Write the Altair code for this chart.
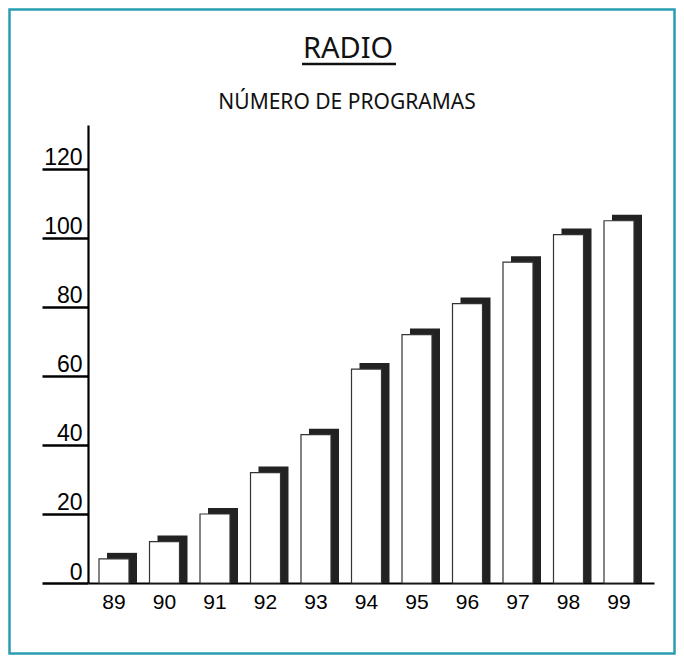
import altair as alt
import pandas as pd

years = ["89", "90", "91", "92", "93", "94", "95", "96", "97", "98", "99"]
programas = [7, 12, 20, 32, 43, 62, 72, 81, 93, 101, 105]
y_ticks = [0, 20, 40, 60, 80, 100, 120]
title_text = "RADIO"
subtitle_text = "NÚMERO DE PROGRAMAS"

df = pd.DataFrame({"year": years, "value": programas})

W, H = 566, 458
FONT = "Liberation Sans, Arial, sans-serif"
TFONT = "Noto Sans, sans-serif"

xscale = alt.Scale(domain=years, paddingInner=0.406, paddingOuter=0.307, align=0.355)
yscale = alt.Scale(domain=[0, 132.75], nice=False, zero=True)

xaxis = alt.Axis(title=None, ticks=False, domainColor="black", domainWidth=2.2,
                 labelFont=FONT, labelFontSize=21, labelColor="black",
                 labelPadding=8, labelAngle=0)
yaxis = alt.Axis(title=None, values=y_ticks, grid=False, domainColor="black", domainWidth=2.2,
                 tickColor="black", tickWidth=2.5, tickSize=46,
                 labelFont=FONT, labelFontSize=23, labelColor="black",
                 labelAlign="right", labelBaseline="alphabetic", labelPadding=-40,
                 labelOffset=-4)

base = alt.Chart(df)

shadow = base.mark_bar(color="#222222", xOffset=8, yOffset=-6, y2Offset=0).encode(
    x=alt.X("year:N", scale=xscale, axis=xaxis, sort=years),
    y=alt.Y("value:Q", scale=yscale, axis=yaxis),
    y2=alt.value(H),
)
white = base.mark_bar(color="white", stroke="#333333", strokeWidth=1.2).encode(
    x=alt.X("year:N", scale=xscale, sort=years),
    y=alt.Y("value:Q", scale=yscale),
)

one = pd.DataFrame({"t": [title_text], "s": [subtitle_text]})
frame = alt.Chart(one).mark_rect(fill="transparent", stroke="#2a9db3", strokeWidth=2.5).encode(
    x=alt.value(-78.5), x2=alt.value(586.5), y=alt.value(-115.5), y2=alt.value(528.5)
)
title = alt.Chart(one).mark_text(font=TFONT, fontSize=29, color="#111111", align="center",
                                 baseline="alphabetic").encode(
    text="t:N", x=alt.value(260), y=alt.value(-67)
)
underline = alt.Chart(one).mark_rule(color="#111111", strokeWidth=2.5).encode(
    x=alt.value(214), x2=alt.value(308), y=alt.value(-61)
)
subtitle = alt.Chart(one).mark_text(font=TFONT, fontSize=21, color="#111111", align="center",
                                    baseline="alphabetic").encode(
    text="s:N", x=alt.value(259), y=alt.value(-16)
)

chart = alt.layer(frame, shadow, white, title, underline, subtitle).properties(
    width=W, height=H,
    background="white",
    autosize=alt.AutoSizeParams(type="none"),
    padding={"left": 80, "top": 117, "right": 22, "bottom": 72},
).configure_view(strokeWidth=0)

chart.save("out.html", embed_options={"renderer": "svg", "actions": False})
